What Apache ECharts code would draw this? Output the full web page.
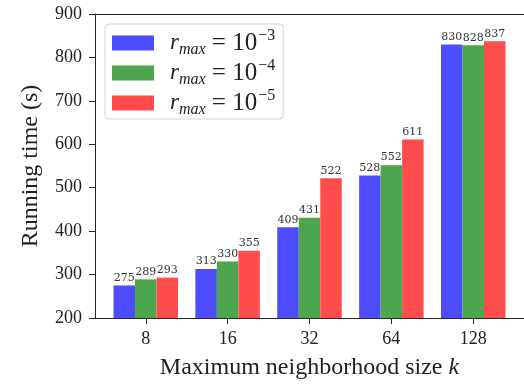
<!DOCTYPE html>
<html>
<head>
<meta charset="utf-8">
<script src="https://cdn.jsdelivr.net/npm/echarts@6/dist/echarts.min.js"></script>
<style>html,body{margin:0;padding:0;background:#fff}#c{width:524px;height:385px}</style>
</head>
<body>
<div id="c"></div>
<script>
var categories = ['8', '16', '32', '64', '128'];
var seriesExponents = ['−3', '−4', '−5'];
var values1e3 = [275, 313, 409, 528, 830];
var values1e4 = [289, 330, 431, 552, 828];
var values1e5 = [293, 355, 522, 611, 837];
var yTicks = [200, 300, 400, 500, 600, 700, 800, 900];

var colors = ['rgb(77,77,255)', 'rgb(77,166,77)', 'rgb(255,77,77)'];
var serif = 'Liberation Serif';
var allValues = [values1e3, values1e4, values1e5];

var chart = echarts.init(document.getElementById('c'), null, {renderer: 'canvas'});

var series = allValues.map(function (vals, si) {
  return {
    name: 's' + si,
    type: 'bar',
    barWidth: 21.5,
    barGap: '0%',
    data: vals.map(function (v, i) { return [i, v]; }),
    itemStyle: {color: colors[si]},
    label: {
      show: true, position: 'top', distance: 2,
      fontFamily: 'DejaVu Serif', fontSize: 11, color: '#333',
      formatter: function (p) { return p.value[1]; }
    }
  };
});

var option = {
  animation: false,
  backgroundColor: '#fff',
  grid: {left: 95, right: -9, top: 14, bottom: 66, containLabel: false},
  legend: {
    left: 105, top: 24,
    orient: 'vertical',
    itemWidth: 42, itemHeight: 15, itemGap: 0,
    padding: [4, 8, 1, 7],
    backgroundColor: '#fff',
    borderColor: '#d5d5d5', borderWidth: 1, borderRadius: 4,
    data: ['s0', 's1', 's2'],
    icon: 'rect',
    formatter: function (name) {
      var idx = +name.slice(1);
      return '{r|r}{sub|max}{eq| = 10}{sup|' + seriesExponents[idx] + '}';
    },
    textStyle: {
      padding: [0, 0, 0, 11],
      rich: {
        r: {fontFamily: serif, fontStyle: 'italic', fontSize: 23, verticalAlign: 'middle', color: '#222'},
        sub: {fontFamily: serif, fontStyle: 'italic', fontSize: 16, verticalAlign: 'bottom', padding: [14, 0, 0, 0], color: '#222'},
        eq: {fontFamily: serif, fontSize: 25, verticalAlign: 'middle', color: '#222'},
        sup: {fontFamily: serif, fontSize: 16, verticalAlign: 'top', padding: [0, 0, 14, 1], color: '#222'}
      }
    }
  },
  xAxis: [{
    type: 'value', min: -0.62, max: 4.62,
    splitLine: {show: false},
    axisLine: {show: true, onZero: false, lineStyle: {color: '#262626', width: 1}},
    axisTick: {show: true, length: 6, customValues: [0, 1, 2, 3, 4], lineStyle: {color: '#262626'}},
    axisLabel: {
      customValues: [0, 1, 2, 3, 4], margin: 12,
      fontFamily: serif, fontSize: 18, color: '#222',
      formatter: function (v) { return categories[Math.round(v)]; }
    },
    name: 'Maximum neighborhood size {k|k}',
    nameLocation: 'middle', nameGap: 38,
    nameTextStyle: {fontFamily: serif, fontSize: 24, color: '#222',
      rich: {k: {fontFamily: serif, fontStyle: 'italic', fontSize: 24, color: '#222'}}}
  }, {
    type: 'value', min: -0.62, max: 4.62, position: 'top',
    splitLine: {show: false}, axisTick: {show: false}, axisLabel: {show: false},
    axisLine: {show: true, onZero: false, lineStyle: {color: '#262626', width: 1}}
  }],
  yAxis: {
    type: 'value', min: yTicks[0], max: yTicks[yTicks.length - 1], interval: 100,
    splitLine: {show: false},
    axisLine: {show: true, onZero: false, lineStyle: {color: '#262626', width: 1}},
    axisTick: {show: true, length: 6, lineStyle: {color: '#262626'}},
    axisLabel: {margin: 13, fontFamily: serif, fontSize: 18, color: '#222'},
    name: 'Running time (s)',
    nameLocation: 'middle', nameGap: 52, nameRotate: 90,
    nameTextStyle: {fontFamily: serif, fontSize: 24, color: '#222'}
  },
  series: series
};
chart.setOption(option);
</script>
</body>
</html>
